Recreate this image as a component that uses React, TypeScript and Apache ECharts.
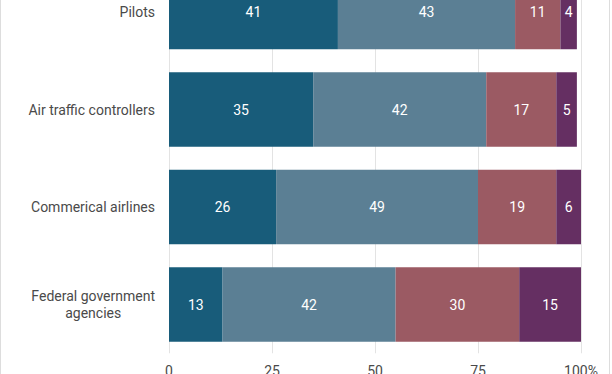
import React, { useEffect, useRef } from "react";
import * as echarts from "echarts";

const categories = [
  "Pilots",
  "Air traffic controllers",
  "Commerical airlines",
  "Federal government agencies",
];
const seriesA = [41, 35, 26, 13];
const seriesB = [43, 42, 49, 42];
const seriesC = [11, 17, 19, 30];
const seriesD = [4, 5, 6, 15];
const seriesColors = ["#185c7a", "#5b7f94", "#9b5a63", "#652f62"];
const xTicks = [0, 25, 50, 75, 100];

const OFFSET = 37;

export default function App() {
  const ref = useRef<HTMLDivElement>(null);
  useEffect(() => {
    if (!ref.current) return;
    const chart = echarts.init(ref.current, null, { renderer: "svg" });
    const font = "Roboto";
    const data = [seriesA, seriesB, seriesC, seriesD];
    chart.setOption({
      animation: false,
      textStyle: { fontFamily: font },
      grid: {
        left: 169,
        right: 31,
        top: 0.25,
        bottom: 20.75,
        containLabel: false,
        outerBoundsMode: "none",
      },
      xAxis: {
        type: "value",
        min: xTicks[0],
        max: xTicks[xTicks.length - 1],
        interval: 25,
        axisLine: { show: false },
        axisTick: { show: false },
        splitLine: { show: true, lineStyle: { color: "#e3e3e3", width: 1 } },
        axisLabel: {
          margin: 11,
          color: "#4a4a4a",
          fontSize: 14,
          fontFamily: font,
          formatter: (v: number) => (v === 100 ? "100%" : String(v)),
        },
      },
      yAxis: {
        type: "category",
        inverse: true,
        data: categories,
        axisLine: { show: false },
        axisTick: { show: false },
        axisLabel: {
          margin: 14,
          color: "#4a4a4a",
          fontSize: 14,
          fontFamily: font,
          lineHeight: 17,
          formatter: (v: string) =>
            v === "Federal government agencies"
              ? "{c|Federal government}\n{c|agencies}"
              : "{c|" + v + "}",
          rich: {
            c: { align: "center", fontSize: 14, fontFamily: font, color: "#4a4a4a", lineHeight: 17 },
          },
        },
      },
      series: data.map((arr, i) => ({
        type: "bar",
        stack: "total",
        data: arr,
        barCategoryGap: "23.5%",
        itemStyle: { color: seriesColors[i] },
        label: {
          show: true,
          position: "inside",
          color: "#fff",
          fontSize: 14,
          fontFamily: font,
        },
      })),
      graphic: [
        { type: "line", shape: { x1: 0.5, y1: OFFSET, x2: 0.5, y2: OFFSET + 374 }, style: { stroke: "#dddddd", lineWidth: 1 } },
        { type: "line", shape: { x1: 609.5, y1: OFFSET, x2: 609.5, y2: OFFSET + 374 }, style: { stroke: "#dddddd", lineWidth: 1 } },
      ],
    });
    return () => chart.dispose();
  }, []);
  return (
    <div style={{ position: "fixed", left: 0, top: 0, width: 612, height: 374, overflow: "hidden", background: "#fff" }}>
      <div
        ref={ref}
        style={{ position: "absolute", left: 0, top: -OFFSET, width: 612, height: 374 + OFFSET }}
      />
    </div>
  );
}
